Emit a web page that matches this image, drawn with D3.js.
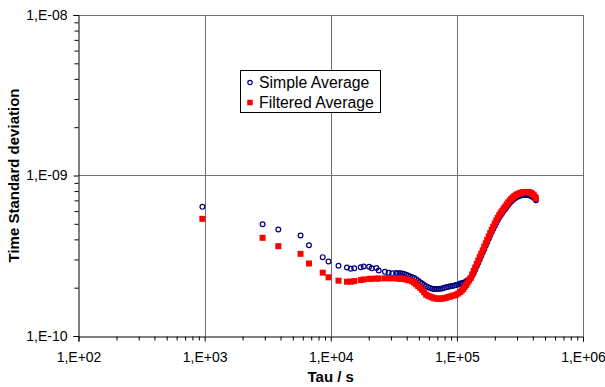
<!DOCTYPE html>
<html>
<head>
<meta charset="utf-8">
<script src="https://cdn.jsdelivr.net/npm/d3@7"></script>
<style>
  html, body { margin: 0; padding: 0; background: #fff; }
  svg { display: block; }
  text { font-family: Arial, "Liberation Sans", sans-serif; }
</style>
</head>
<body>
<svg id="chart" width="605" height="387"></svg>
<script>
// Averaging time tau (s)
const tau = [960, 2880, 3840, 5760, 6720, 8640, 9600, 11520, 13440, 14400, 15360, 17280, 18240, 20160, 21120, 23040, 24000, 26880, 28800, 30720,
  32980, 34210, 35480, 36800, 38170, 39590, 41070, 42600, 44180, 45830, 47530, 49310, 51130, 53040, 55020, 57050, 59180, 61390, 63680, 66040,
  68500, 71050, 73690, 76430, 79280, 82240, 85310, 88470, 91770, 95190, 98720, 102400, 106200,
  109200, 112200, 115300, 118500, 121800, 125200, 128700, 132300, 135900, 139700, 143600, 147600, 151700, 155900, 160200, 164700, 169300, 174000, 178800, 183800,
  188900, 194200, 199600, 205100, 210800, 216700, 222700, 228900, 235300, 241800, 248500, 255400, 262500, 269800, 277300, 285000, 293000, 301100, 309500, 318100,
  326900, 336000, 345400, 355000, 364800, 375000, 385400, 396100, 407100, 418400, 423600];

// Time standard deviation, in units of 1e-10 s
const UNIT = 1e-10;
const simpleAvg = [6.38, 4.97, 4.61, 4.23, 3.68, 3.10, 2.91, 2.74, 2.67, 2.62, 2.64, 2.68, 2.71, 2.70, 2.64, 2.65, 2.56, 2.51, 2.48, 2.46,
  2.47, 2.46, 2.46, 2.45, 2.43, 2.41, 2.38, 2.35, 2.32, 2.30, 2.26, 2.21, 2.16, 2.12, 2.08, 2.04, 2.01, 1.99, 1.97, 1.96,
  1.96, 1.96, 1.97, 1.98, 2.00, 2.01, 2.03, 2.04, 2.05, 2.06, 2.08, 2.09, 2.12,
  2.13, 2.14, 2.16, 2.19, 2.22, 2.26, 2.30, 2.37, 2.47, 2.59, 2.72, 2.85, 3.00, 3.15, 3.31, 3.47, 3.65, 3.84, 4.03, 4.24,
  4.44, 4.64, 4.85, 5.06, 5.27, 5.47, 5.66, 5.84, 6.02, 6.19, 6.37, 6.56, 6.73, 6.89, 7.04, 7.17, 7.27, 7.36, 7.43, 7.50,
  7.54, 7.56, 7.57, 7.57, 7.56, 7.52, 7.46, 7.38, 7.27, 7.14, 7.02];
const filteredAvg = [5.37, 4.09, 3.63, 3.25, 2.83, 2.48, 2.32, 2.21, 2.18, 2.18, 2.20, 2.23, 2.25, 2.27, 2.27, 2.28, 2.28, 2.29, 2.29, 2.29,
  2.29, 2.28, 2.28, 2.28, 2.27, 2.25, 2.23, 2.22, 2.19, 2.15, 2.10, 2.05, 2.00, 1.94, 1.87, 1.81, 1.78, 1.76, 1.74, 1.72,
  1.71, 1.71, 1.71, 1.71, 1.72, 1.73, 1.75, 1.76, 1.78, 1.79, 1.81, 1.84, 1.88,
  1.92, 1.96, 2.02, 2.08, 2.15, 2.22, 2.30, 2.42, 2.54, 2.67, 2.81, 2.95, 3.10, 3.26, 3.42, 3.60, 3.78, 3.97, 4.17, 4.38,
  4.59, 4.80, 5.02, 5.24, 5.45, 5.66, 5.86, 6.04, 6.23, 6.41, 6.60, 6.79, 6.97, 7.14, 7.29, 7.43, 7.54, 7.64, 7.71, 7.78,
  7.84, 7.87, 7.89, 7.90, 7.89, 7.86, 7.80, 7.70, 7.55, 7.34, 7.19];

const seriesNames = ["Simple Average", "Filtered Average"];
const xTicks = [1e2, 1e3, 1e4, 1e5, 1e6];
const yTicks = [1e-10, 1e-9, 1e-8];
const xTitle = "Tau / s";
const yTitle = "Time Standard deviation";

const svg = d3.select("#chart");
const L = 78.5, R = 583, T = 15, B = 336;
const x = d3.scaleLog().domain([1e2, 1e6]).range([L, R]);
const y = d3.scaleLog().domain([1e-10, 1e-8]).range([B, T]);

const fmt = v => {
  const e = Math.round(Math.log10(v));
  return "1,E" + (e < 0 ? "-" : "+") + String(Math.abs(e)).padStart(2, "0");
};

// minor ticks
const minorX = [], minorY = [];
for (let d = 2; d < 6; d++) for (let m = 2; m <= 9; m++) minorX.push(m * Math.pow(10, d));
for (let d = -10; d < -8; d++) for (let m = 2; m <= 9; m++) minorY.push(m * Math.pow(10, d));

// gridlines
const grid = svg.append("g").attr("stroke", "#707070").attr("stroke-width", 1);
grid.selectAll("line.gx").data(xTicks.slice(1)).join("line")
  .attr("x1", d => Math.round(x(d)) + 0.5).attr("x2", d => Math.round(x(d)) + 0.5)
  .attr("y1", T).attr("y2", B);
grid.selectAll("line.gy").data(yTicks.slice(1)).join("line")
  .attr("y1", d => Math.round(y(d)) + 0.5).attr("y2", d => Math.round(y(d)) + 0.5)
  .attr("x1", L).attr("x2", R);

// axes
const xAxis = svg.append("g").attr("transform", `translate(0,${B + 0.5})`)
  .call(d3.axisBottom(x).tickValues(xTicks).tickFormat(fmt).tickSize(5).tickPadding(11));
const xMinor = svg.append("g").attr("transform", `translate(0,${B + 0.5})`)
  .call(d3.axisBottom(x).tickValues(minorX).tickFormat("").tickSize(4));
const yAxis = svg.append("g").attr("transform", `translate(${L},0)`)
  .call(d3.axisLeft(y).tickValues(yTicks).tickFormat(fmt).tickSize(5).tickPadding(6));
const yMinor = svg.append("g").attr("transform", `translate(${L},0)`)
  .call(d3.axisLeft(y).tickValues(minorY).tickFormat("").tickSize(4));
[xAxis, xMinor, yAxis, yMinor].forEach(g => {
  g.select(".domain").attr("stroke", "#000").attr("stroke-width", 1);
  g.selectAll(".tick line").attr("stroke", "#000");
  g.selectAll(".tick text").attr("font-size", 14).attr("fill", "#000")
    .attr("font-family", "Arial, 'Liberation Sans', sans-serif");
});
xMinor.select(".domain").remove();
yMinor.select(".domain").remove();

// axis titles
svg.append("text").attr("x", (L + R) / 2).attr("y", 382).attr("text-anchor", "middle")
  .attr("font-size", 15).attr("font-weight", "bold").text(xTitle);
svg.append("text").attr("transform", `translate(19,${(T + B) / 2}) rotate(-90)`)
  .attr("text-anchor", "middle").attr("font-size", 15).attr("font-weight", "bold").text(yTitle);

// data
const data = tau.map((t, i) => ({ t, s: simpleAvg[i] * UNIT, f: filteredAvg[i] * UNIT }));

svg.append("g").selectAll("circle").data(data).join("circle")
  .attr("cx", d => x(d.t)).attr("cy", d => y(d.s)).attr("r", 2.4)
  .attr("fill", "none").attr("stroke", "#000080").attr("stroke-width", 1.2);

const sq = 6;
svg.append("g").selectAll("rect").data(data).join("rect")
  .attr("x", d => x(d.t) - sq / 2).attr("y", d => y(d.f) - sq / 2)
  .attr("width", sq).attr("height", sq).attr("fill", "#ff0000");

// legend
const lg = svg.append("g");
lg.append("rect").attr("x", 240.5).attr("y", 70.5).attr("width", 140).attr("height", 42)
  .attr("fill", "#fff").attr("stroke", "#000").attr("stroke-width", 1);
lg.append("circle").attr("cx", 250).attr("cy", 82.5).attr("r", 2.2)
  .attr("fill", "none").attr("stroke", "#000080").attr("stroke-width", 1.2);
lg.append("rect").attr("x", 250 - 2.75).attr("y", 102.5 - 2.75).attr("width", 5.5).attr("height", 5.5).attr("fill", "#ff0000");
lg.selectAll("text").data(seriesNames).join("text")
  .attr("x", 259).attr("y", (d, i) => 88 + i * 20).attr("font-size", 15.8).attr("fill", "#000").text(d => d);
</script>
</body>
</html>
